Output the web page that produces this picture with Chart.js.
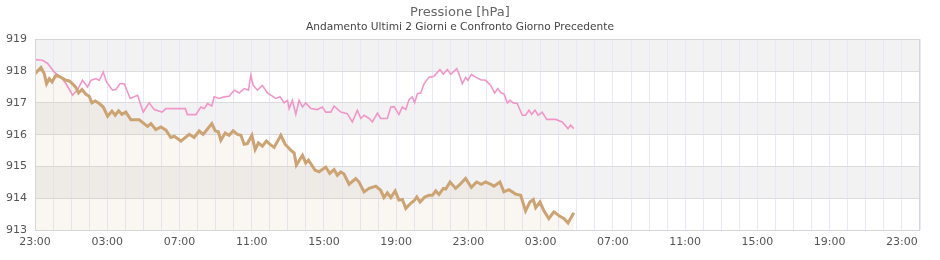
<!DOCTYPE html>
<html lang="it">
<head>
<meta charset="utf-8">
<title>Pressione [hPa]</title>
<script src="https://cdn.jsdelivr.net/npm/chart.js@4/dist/chart.umd.min.js"></script>
<style>
    html, body { margin: 0; padding: 0; background: #fff; }
    #wrap { width: 940px; height: 260px; position: relative; }
</style>
</head>
<body>
<div id="wrap"><canvas id="pressChart"></canvas></div>
<script>
// Dati: ore trascorse dalle 23:00 e pressione in hPa
const TITLE = 'Pressione [hPa]';
const SUBTITLE = 'Andamento Ultimi 2 Giorni e Confronto Giorno Precedente';
const START_HOUR = 23;
const X_MAX = 49;
const Y_TICKS = [913, 914, 915, 916, 917, 918, 919];

// giorno precedente (rosa)
const prevHours = [0, 0.42, 0.70, 1.07, 1.44, 1.72, 2.08, 2.36, 2.63, 2.91, 3.10, 3.37, 3.56, 3.78, 3.96, 4.29, 4.48, 4.70, 4.94, 5.27, 5.68, 5.99, 6.32, 6.60, 7.03, 7.25, 7.52, 8.32, 8.44, 8.91, 9.18, 9.37, 9.55, 9.79, 9.92, 10.20, 10.47, 10.75, 11.03, 11.30, 11.58, 11.82, 11.95, 12.08, 12.32, 12.59, 12.87, 13.33, 13.57, 13.79, 13.98, 14.07, 14.25, 14.44, 14.62, 14.81, 14.99, 15.27, 15.63, 15.91, 16.10, 16.38, 16.56, 16.93, 17.29, 17.57, 17.85, 18.04, 18.22, 18.50, 18.68, 18.96, 19.14, 19.51, 19.70, 19.88, 20.15, 20.34, 20.53, 20.71, 20.89, 21.02, 21.17, 21.36, 21.54, 21.82, 22.09, 22.42, 22.61, 22.83, 23.02, 23.35, 23.47, 23.66, 23.84, 23.97, 24.16, 24.40, 24.68, 24.95, 25.23, 25.45, 25.63, 25.81, 25.96, 26.15, 26.30, 26.48, 26.70, 26.98, 27.16, 27.35, 27.50, 27.68, 27.86, 28.08, 28.33, 28.83, 29.19, 29.51, 29.65, 29.83];
const prevValues = [918.36, 918.34, 918.24, 917.97, 917.81, 917.60, 917.24, 917.42, 917.71, 917.50, 917.71, 917.76, 917.71, 917.97, 917.66, 917.40, 917.42, 917.60, 917.60, 917.14, 917.24, 916.71, 917.00, 916.79, 916.71, 916.82, 916.82, 916.82, 916.63, 916.63, 916.87, 916.82, 916.98, 916.90, 917.19, 917.14, 917.19, 917.21, 917.40, 917.31, 917.45, 917.40, 917.87, 917.55, 917.40, 917.55, 917.31, 917.14, 917.19, 917.00, 917.08, 916.82, 917.08, 916.64, 917.08, 916.87, 917.00, 916.82, 916.79, 916.87, 916.71, 916.71, 916.90, 916.71, 916.66, 916.40, 916.77, 916.51, 916.61, 916.51, 916.40, 916.68, 916.51, 916.51, 916.87, 916.88, 916.63, 916.87, 916.79, 917.10, 917.19, 917.00, 917.29, 917.31, 917.60, 917.81, 917.84, 918.05, 917.90, 918.05, 917.90, 918.08, 917.92, 917.60, 917.80, 917.71, 917.90, 917.81, 917.73, 917.71, 917.55, 917.31, 917.45, 917.31, 917.29, 917.00, 917.08, 917.00, 916.98, 916.61, 916.61, 916.77, 916.64, 916.77, 916.61, 916.71, 916.48, 916.48, 916.40, 916.19, 916.30, 916.19];

// ultimi 2 giorni (marrone)
const lastHours = [0, 0.33, 0.51, 0.64, 0.79, 0.94, 1.16, 1.44, 1.72, 1.90, 2.08, 2.27, 2.41, 2.60, 2.82, 3.00, 3.15, 3.34, 3.56, 3.78, 4.02, 4.26, 4.44, 4.63, 4.81, 5.03, 5.31, 5.77, 6.23, 6.42, 6.69, 6.97, 7.25, 7.52, 7.71, 8.08, 8.54, 8.81, 9.09, 9.31, 9.79, 9.98, 10.15, 10.29, 10.53, 10.75, 10.97, 11.21, 11.40, 11.58, 11.76, 12.01, 12.19, 12.37, 12.59, 12.81, 13.00, 13.24, 13.61, 13.85, 14.16, 14.35, 14.47, 14.81, 14.99, 15.14, 15.51, 15.73, 16.10, 16.32, 16.56, 16.74, 16.93, 17.11, 17.39, 17.76, 17.94, 18.22, 18.50, 18.87, 19.14, 19.32, 19.51, 19.70, 19.94, 20.15, 20.34, 20.53, 20.80, 20.99, 21.14, 21.32, 21.58, 21.82, 22.00, 22.19, 22.37, 22.61, 22.74, 22.98, 23.29, 23.57, 23.84, 24.16, 24.45, 24.71, 24.95, 25.23, 25.41, 25.74, 25.96, 26.24, 26.61, 26.89, 27.16, 27.40, 27.59, 27.72, 27.96, 28.18, 28.45, 28.73, 29.06, 29.28, 29.51, 29.83];
const lastValues = [917.92, 918.11, 917.92, 917.60, 917.76, 917.66, 917.87, 917.80, 917.71, 917.69, 917.60, 917.48, 917.31, 917.42, 917.27, 917.21, 917.00, 917.06, 916.98, 916.87, 916.58, 916.74, 916.61, 916.75, 916.64, 916.71, 916.47, 916.47, 916.26, 916.35, 916.16, 916.24, 916.14, 915.91, 915.95, 915.80, 916.01, 915.91, 916.12, 916.01, 916.35, 916.12, 916.09, 915.82, 916.05, 915.98, 916.12, 916.01, 915.98, 915.70, 915.72, 915.98, 915.53, 915.74, 915.64, 915.80, 915.70, 915.60, 915.98, 915.70, 915.51, 915.42, 915.04, 915.35, 915.11, 915.20, 914.88, 914.83, 914.98, 914.78, 914.90, 914.72, 914.83, 914.76, 914.44, 914.62, 914.51, 914.20, 914.31, 914.38, 914.25, 914.02, 914.17, 914.02, 914.23, 913.94, 913.96, 913.68, 913.84, 913.92, 914.04, 913.88, 914.04, 914.09, 914.09, 914.23, 914.12, 914.31, 914.29, 914.51, 914.31, 914.46, 914.62, 914.34, 914.51, 914.44, 914.51, 914.44, 914.38, 914.51, 914.20, 914.27, 914.13, 914.09, 913.60, 913.88, 913.96, 913.70, 913.88, 913.60, 913.36, 913.57, 913.43, 913.36, 913.22, 913.54];

const toPoints = (xs, ys) => xs.map((x, i) => ({ x: x, y: ys[i] }));

function hourLabel(v) {
    const h = (START_HOUR + v) % 24;
    return String(h).padStart(2, '0') + ':00';
}

// bande orizzontali alternate + bordo dell'area
const bandsPlugin = {
    id: 'bands',
    beforeDraw(chart) {
        const { ctx, chartArea, scales } = chart;
        const y = scales.y;
        ctx.save();
        for (let v = Y_TICKS[0]; v < Y_TICKS[Y_TICKS.length - 1]; v++) {
            const top = y.getPixelForValue(v + 1);
            const bot = y.getPixelForValue(v);
            ctx.fillStyle = (v - Y_TICKS[0]) % 2 === 1 ? '#f2f2f2' : '#ffffff';
            ctx.fillRect(chartArea.left, top, chartArea.right - chartArea.left, bot - top);
        }
        ctx.restore();
    },
    afterDraw(chart) {
        const { ctx, chartArea } = chart;
        ctx.save();
        ctx.strokeStyle = '#d6d6d6';
        ctx.lineWidth = 1;
        ctx.strokeRect(Math.round(chartArea.left) + 0.5, Math.round(chartArea.top) + 0.5,
            Math.round(chartArea.right - chartArea.left) - 1, Math.round(chartArea.bottom - chartArea.top));
        ctx.restore();
    }
};

const FONT = 'DejaVu Sans';

new Chart(document.getElementById('pressChart'), {
    type: 'line',
    data: {
        datasets: [
            {
                label: 'Ultimi 2 giorni',
                data: toPoints(lastHours, lastValues),
                borderColor: 'rgb(204, 163, 115)',
                backgroundColor: 'rgba(204, 163, 115, 0.09)',
                borderWidth: 3,
                fill: 'start',
                pointRadius: 0,
                tension: 0,
                order: 0
            },
            {
                label: 'Giorno precedente',
                data: toPoints(prevHours, prevValues),
                borderColor: 'rgb(241, 150, 200)',
                borderWidth: 1.6,
                fill: false,
                pointRadius: 0,
                tension: 0,
                order: 1
            }
        ]
    },
    options: {
        responsive: true,
        maintainAspectRatio: false,
        animation: false,
        layout: { padding: { left: 0, right: 20, top: 0, bottom: 0 } },
        plugins: {
            legend: { display: false },
            tooltip: { enabled: false },
            title: {
                display: true,
                text: TITLE,
                color: '#666',
                font: { family: FONT, size: 13, weight: 'normal' },
                padding: { top: 5, bottom: 0 }
            },
            subtitle: {
                display: true,
                text: SUBTITLE,
                color: '#444',
                font: { family: FONT, size: 10.6 },
                padding: { top: 0, bottom: 6 }
            }
        },
        scales: {
            x: {
                type: 'linear',
                min: 0,
                max: X_MAX,
                afterFit: s => { s.height = 30; },
                afterBuildTicks: s => {
                    s.ticks = [];
                    for (let i = 0; i <= X_MAX; i++) s.ticks.push({ value: i });
                },
                ticks: {
                    autoSkip: false,
                    maxRotation: 0,
                    padding: 6,
                    color: '#555',
                    font: { family: FONT, size: 11 },
                    callback: v => (v % 4 === 0 ? hourLabel(v) : '')
                },
                grid: { color: '#e9e7f8', drawTicks: false },
                border: { display: false }
            },
            y: {
                min: Y_TICKS[0],
                max: Y_TICKS[Y_TICKS.length - 1],
                afterFit: s => { s.width = 35; },
                afterBuildTicks: s => { s.ticks = Y_TICKS.map(v => ({ value: v })); },
                ticks: {
                    padding: 8,
                    color: '#555',
                    font: { family: FONT, size: 11 }
                },
                grid: { color: '#dcdcdc', drawTicks: false },
                border: { display: false }
            }
        }
    },
    plugins: [bandsPlugin]
});
</script>
</body>
</html>
